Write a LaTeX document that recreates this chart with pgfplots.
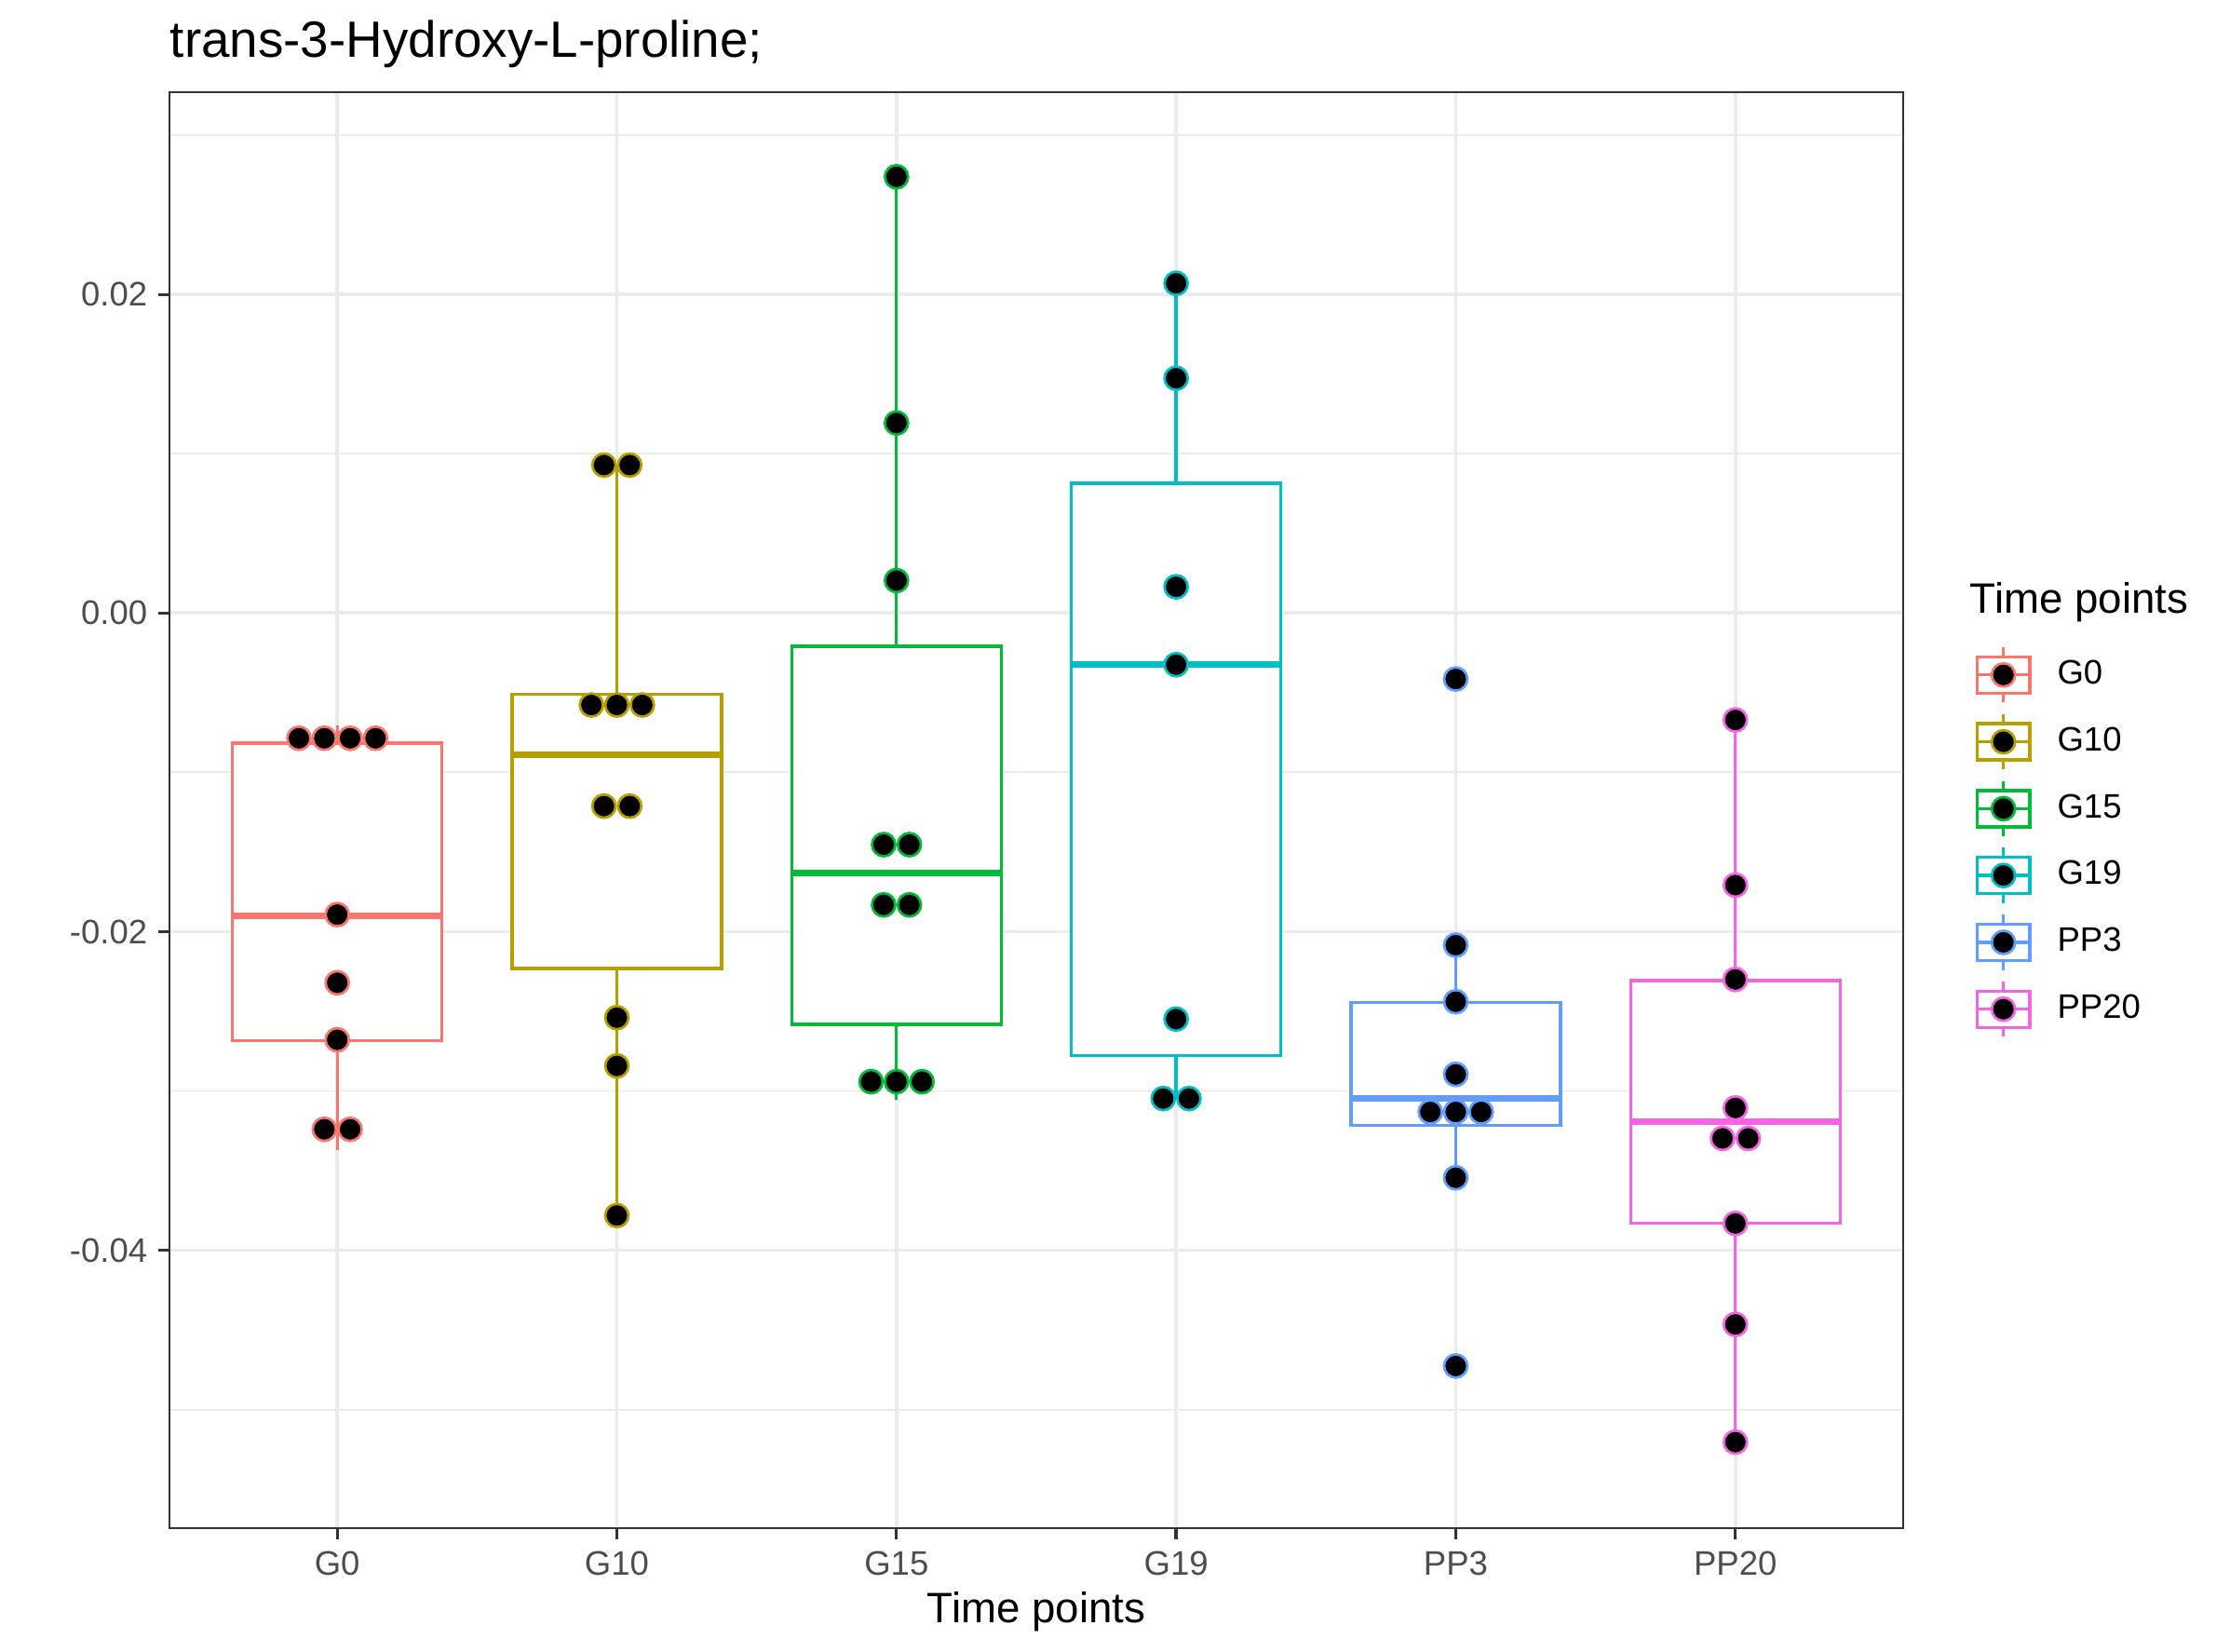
\documentclass[border=0pt]{standalone}
\usepackage{pgfplots}
\pgfplotsset{compat=1.18}
\usepackage{fontspec}
\setmainfont{Liberation Sans}
\definecolor{cA}{HTML}{F8766D}
\definecolor{cB}{HTML}{B79F00}
\definecolor{cC}{HTML}{00BA38}
\definecolor{cD}{HTML}{00BFC4}
\definecolor{cE}{HTML}{619CFF}
\definecolor{cF}{HTML}{F564E3}
\definecolor{grey92}{HTML}{EBEBEB}
\definecolor{grey20}{HTML}{333333}
\definecolor{grey30}{HTML}{4D4D4D}
\newcommand{\boxkey}[1]{%
  \path[draw=none, fill=none] (-8.615bp,-8.615bp) rectangle (8.615bp,8.615bp);
  \draw[#1, line width=0.8bp, fill=white] (-6.8bp,-4.68bp) rectangle (6.8bp,4.68bp);
  \draw[#1, line width=0.8bp] (-6.8bp,0)--(6.8bp,0) (0,4.68bp)--(0,7.13bp) (0,-4.68bp)--(0,-7.13bp);
  \filldraw[fill=black, draw=#1, line width=0.65bp] (0,0) circle[radius=3.0bp];
}
% color, x-left, x-center, x-right, lower whisker, lower quartile, median, upper quartile, upper whisker
\newcommand{\bxp}[9]{%
  \addplot[forget plot, draw=#1, line width=0.8bp] coordinates {(#3,#5) (#3,#6)};
  \addplot[forget plot, draw=#1, line width=0.8bp] coordinates {(#3,#8) (#3,#9)};
  \addplot[forget plot, draw=#1, fill=white, line width=0.8bp, line join=miter] coordinates {(#2,#6) (#4,#6) (#4,#8) (#2,#8)} -- cycle;
  \addplot[forget plot, draw=#1, line width=1.6bp] coordinates {(#2,#7) (#4,#7)};
}
\pgfplotsset{
  dots/.style={only marks, forget plot, mark=*, mark size=3.0bp,
    mark options={draw=#1, fill=black, line width=0.65bp, solid}},
}
\begin{document}
\begin{tikzpicture}
\path[use as bounding box] (-43.68bp,-31.92bp) rectangle (531.12bp,393.84bp);
\begin{axis}[
  at={(0,0)}, anchor=south west,
  scale only axis, width=446.88bp, height=370.08bp,
  xmin=0.4, xmax=6.6, ymin=-0.05745, ymax=0.0327,
  scaled y ticks=false, scaled x ticks=false,
  xtick={1,2,3,4,5,6}, xticklabels={G0,G10,G15,G19,PP3,PP20},
  ytick={-0.04,-0.02,0,0.02}, yticklabels={-0.04,-0.02,0.00,0.02},
  minor ytick={-0.05,-0.03,-0.01,0.01,0.03},
  xmajorgrids, ymajorgrids, yminorgrids,
  major grid style={grey92, line width=0.9bp},
  minor grid style={grey92, line width=0.45bp},
  axis line style={grey20, line width=0.5bp},
  tick align=outside, xtick pos=bottom, ytick pos=left,
  major tick length=2.76bp, minor tick length=0pt,
  every tick/.style={grey20, line width=0.8bp},
  ticklabel style={font=\fontsize{8.8}{10}\selectfont, text=grey30, inner sep=0pt},
  yticklabel style={anchor=east, xshift=-2.76bp},
  xticklabel style={anchor=north, yshift=-3bp},
  xlabel={Time points},
  xlabel style={at={(axis description cs:0.5,0)}, anchor=base, yshift=-24.24bp,
    font=\fontsize{11}{13}\selectfont, inner sep=0pt},
  title={trans-3-Hydroxy-L-proline;},
  title style={at={(axis description cs:0,1)}, anchor=base west, yshift=2.97bp,
    font=\fontsize{13.2}{15}\selectfont, inner sep=0pt},
  legend style={at={(axis description cs:1.0381,0.6180)}, anchor=north west,
    draw=none, fill=none, inner sep=0pt, row sep=0pt, column sep=5.28bp,
    font=\fontsize{8.8}{10}\selectfont, cells={anchor=west}, nodes={inner sep=0pt}},
]
\bxp{cA}{0.625}{1}{1.375}{-0.0337}{-0.02684}{-0.01901}{-0.00817}{-0.00705}
\bxp{cB}{1.625}{2}{2.375}{-0.03782}{-0.02231}{-0.00891}{-0.00509}{0.00929}
\bxp{cC}{2.625}{3}{3.375}{-0.03054}{-0.02583}{-0.01633}{-0.00208}{0.02739}
\bxp{cD}{3.625}{4}{4.375}{-0.03048}{-0.02777}{-0.00324}{0.00815}{0.0207}
\bxp{cE}{4.625}{5}{5.375}{-0.0354}{-0.03218}{-0.03047}{-0.02443}{-0.02085}
\bxp{cF}{5.625}{6}{6.375}{-0.05205}{-0.03832}{-0.03193}{-0.02307}{-0.00671}

\addplot[dots=cA] coordinates {(0.863,-0.00786) (0.954,-0.00786) (1.046,-0.00786) (1.137,-0.00786) (1,-0.01893) (1,-0.02321) (1,-0.02679) (0.954,-0.03241) (1.046,-0.03241)};
\addplot[dots=cB] coordinates {(1.954,0.00929) (2.046,0.00929) (1.909,-0.00577) (2,-0.00577) (2.091,-0.00577) (1.954,-0.01212) (2.046,-0.01212) (2,-0.0254) (2,-0.02843) (2,-0.03782)};
\addplot[dots=cC] coordinates {(3,0.02739) (3,0.01193) (3,0.00204) (2.954,-0.01454) (3.046,-0.01454) (2.954,-0.01832) (3.046,-0.01832) (2.909,-0.02942) (3,-0.02942) (3.091,-0.02942)};
\addplot[dots=cD] coordinates {(4,0.0207) (4,0.01474) (4,0.00165) (4,-0.00324) (4,-0.02549) (3.954,-0.03048) (4.046,-0.03048)};
\addplot[dots=cE] coordinates {(5,-0.00414) (5,-0.02085) (5,-0.0244) (5,-0.02896) (4.909,-0.03132) (5,-0.03132) (5.091,-0.03132) (5,-0.03545) (5,-0.04727)};
\addplot[dots=cF] coordinates {(6,-0.00671) (6,-0.01708) (6,-0.0230) (6,-0.03107) (5.954,-0.03298) (6.046,-0.03298) (6,-0.03832) (6,-0.04466) (6,-0.05205)};

\addlegendimage{legend image code/.code={\boxkey{cA}}}
\addlegendentry{G0}
\addlegendimage{legend image code/.code={\boxkey{cB}}}
\addlegendentry{G10}
\addlegendimage{legend image code/.code={\boxkey{cC}}}
\addlegendentry{G15}
\addlegendimage{legend image code/.code={\boxkey{cD}}}
\addlegendentry{G19}
\addlegendimage{legend image code/.code={\boxkey{cE}}}
\addlegendentry{PP3}
\addlegendimage{legend image code/.code={\boxkey{cF}}}
\addlegendentry{PP20}
\end{axis}
\node[anchor=base west, font=\fontsize{11}{13}\selectfont, inner sep=0pt] at (463.92bp,235.68bp) {Time points};
\end{tikzpicture}
\end{document}
